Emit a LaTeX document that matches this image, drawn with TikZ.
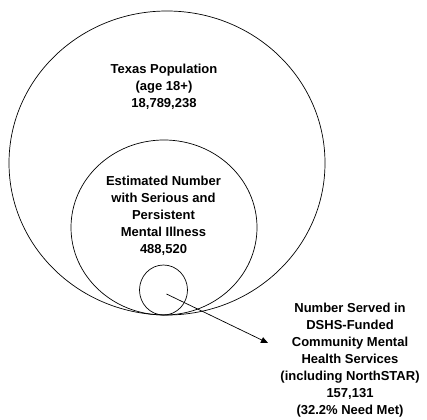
\documentclass[tikz,border=0pt]{standalone}
\usepackage{fontspec}
\setmainfont{Liberation Sans}
\usetikzlibrary{shapes.geometric,arrows.meta}

\tikzset{
  ring/.style={draw, ellipse, line width=0.7pt, inner sep=0pt},
  caption/.style={align=center, font=\bfseries\fontsize{13}{17}\selectfont, inner sep=0pt}
}

\begin{document}
\begin{tikzpicture}[x=1pt, y=-1pt]
    \useasboundingbox (0,0) rectangle (427,419);

    % circles
    \node[ring, minimum width=316pt, minimum height=304pt] (adults) at (167,163) {};
    \node[ring, minimum width=186pt, minimum height=175pt] (spmi) at (164,227.5) {};
    \node[ring, minimum width=48pt, minimum height=50pt] (served) at (163.5,290) {};

    % texts
    \node[caption] (adultstext) at (164,87) {Texas Population\\(age 18+)\\18,789,238};
    \node[caption] (spmitext) at (163.5,216) {Estimated Number\\with Serious and\\Persistent\\Mental Illness\\488,520};
    \node[caption] (servedtext) at (350,360.5) {Number Served in\\DSHS-Funded\\Community Mental\\Health Services\\(including NorthSTAR)\\157,131\\(32.2\% Need Met)};

    % arrow
    \coordinate (tip) at (268,343);
    \draw[-{Triangle[length=7pt, width=6pt]}, line width=0.7pt] ([shift={(3,4)}]served.center) -- (tip);
\end{tikzpicture}
\end{document}
